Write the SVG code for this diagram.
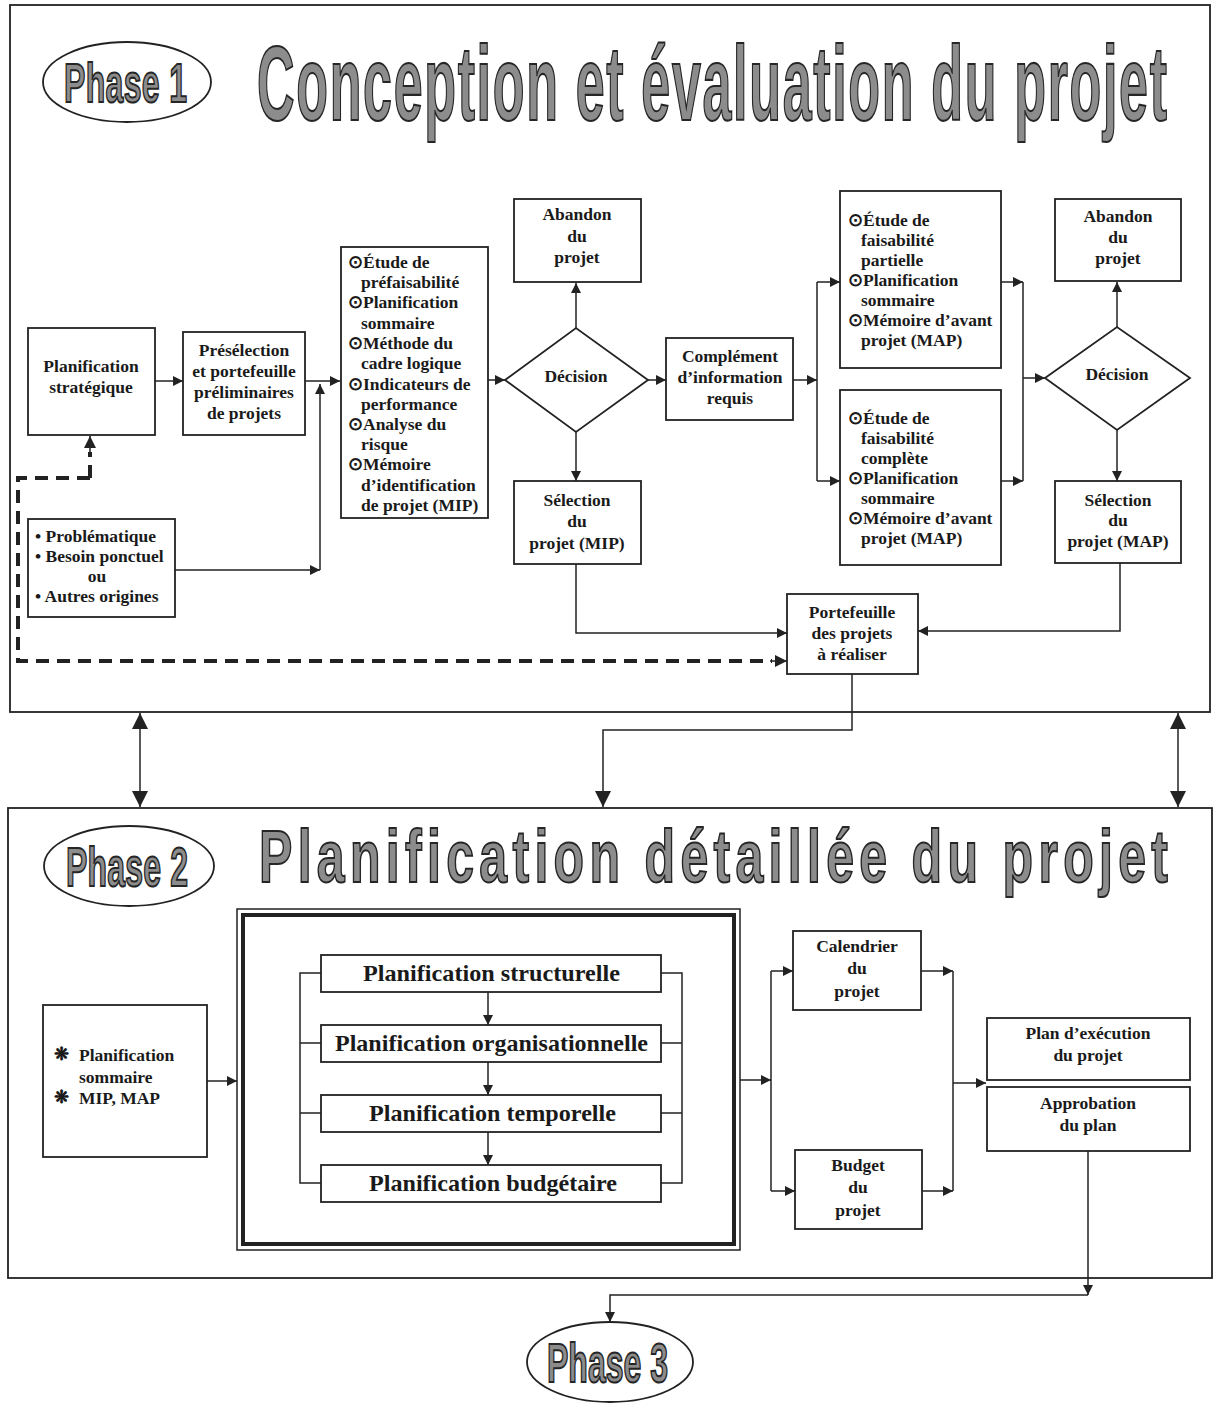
<svg xmlns="http://www.w3.org/2000/svg" width="1213" height="1405" viewBox="0 0 1213 1405">
<style>
.frame{fill:none;stroke:#222;stroke-width:1.8}
.box{fill:#fff;stroke:#222;stroke-width:1.8}
.ln{fill:none;stroke:#222;stroke-width:1.5}
.dash{fill:none;stroke:#222;stroke-width:4;stroke-dasharray:13 8}
.t{font-family:"Liberation Serif","Times New Roman",serif;font-weight:bold;font-size:17.5px;fill:#1a1a1a;text-anchor:middle}
.tl{font-family:"Liberation Serif","Times New Roman",serif;font-weight:bold;font-size:17.5px;fill:#1a1a1a}
.tb{font-family:"Liberation Serif","Times New Roman",serif;font-weight:bold;font-size:23px;fill:#1a1a1a}
.title{font-family:"Liberation Sans",Arial,sans-serif;font-weight:bold;fill:#8c8c8c;stroke:#262626;stroke-width:1.7;vector-effect:non-scaling-stroke;font-variant-ligatures:none}
.ell{fill:#fff;stroke:#222;stroke-width:1.8}
</style>
<defs>
<marker id="ah" viewBox="0 0 10 10" refX="10" refY="5" markerWidth="10" markerHeight="10" markerUnits="userSpaceOnUse" orient="auto-start-reverse"><path d="M0,0 L10,5 L0,10 z" fill="#222"/></marker>
<marker id="ahd" viewBox="0 0 10 10" refX="10" refY="5" markerWidth="12" markerHeight="12" markerUnits="userSpaceOnUse" orient="auto"><path d="M0,0 L10,5 L0,10 z" fill="#222"/></marker>
<marker id="ahb" viewBox="0 0 10 10" refX="10" refY="5" markerWidth="16" markerHeight="16" markerUnits="userSpaceOnUse" orient="auto-start-reverse"><path d="M0,0 L10,5 L0,10 z" fill="#222"/></marker>
</defs>
<rect width="1213" height="1405" fill="#fff"/>

<!-- Phase frames -->
<g id="phase1-frame"><rect class="frame" x="10" y="5" width="1200" height="707"/></g>
<g id="phase2-frame"><rect class="frame" x="8" y="808" width="1204" height="470"/></g>

<!-- Titles -->
<g id="phase1-label">
<ellipse class="ell" cx="127" cy="82" rx="84" ry="40"/>
<text class="title" transform="translate(64,102) scale(1,1.75)" font-size="32" textLength="123" lengthAdjust="spacing">Phase 1</text>
</g>
<g id="phase1-title"><text class="title" transform="translate(257,120) scale(1,2.02)" font-size="52" textLength="910" lengthAdjust="spacing">Conception et évaluation du projet</text></g>
<g id="phase2-label">
<ellipse class="ell" cx="129" cy="866" rx="85" ry="40"/>
<text class="title" transform="translate(66,886) scale(1,1.75)" font-size="32" textLength="122" lengthAdjust="spacing">Phase 2</text>
</g>
<g id="phase2-title"><text class="title" transform="translate(259,882) scale(1,1.5)" font-size="50" textLength="909" lengthAdjust="spacing">Planification détaillée du projet</text></g>
<g id="phase3-label">
<ellipse class="ell" cx="610" cy="1362" rx="83" ry="40"/>
<text class="title" transform="translate(547,1382) scale(1,1.75)" font-size="32" textLength="121" lengthAdjust="spacing">Phase 3</text>
</g>

<!-- Phase 1 nodes -->
<g id="planif-strat"><rect class="box" x="28" y="328" width="127" height="107"/>
<text class="t" x="91" y="372">Planification</text><text class="t" x="91" y="393">stratégique</text></g>
<g id="preselection"><rect class="box" x="183" y="332" width="122" height="103"/>
<text class="t" x="244" y="356">Présélection</text><text class="t" x="244" y="377">et portefeuille</text><text class="t" x="244" y="398">préliminaires</text><text class="t" x="244" y="419">de projets</text></g>
<g id="origines"><rect class="box" x="28" y="519" width="147" height="98"/>
<text class="tl" x="35" y="542">• Problématique</text><text class="tl" x="35" y="562">• Besoin ponctuel</text><text class="t" x="97" y="582">ou</text><text class="tl" x="35" y="602">• Autres origines</text></g>
<g id="mip-etudes"><rect class="box" x="341" y="247" width="147" height="271"/>
<text class="tl" x="348" y="268">⊙Étude de</text>
<text class="tl" x="361" y="288">préfaisabilité</text>
<text class="tl" x="348" y="308">⊙Planification</text>
<text class="tl" x="361" y="329">sommaire</text>
<text class="tl" x="348" y="349">⊙Méthode du</text>
<text class="tl" x="361" y="369">cadre logique</text>
<text class="tl" x="348" y="390">⊙Indicateurs de</text>
<text class="tl" x="361" y="410">performance</text>
<text class="tl" x="348" y="430">⊙Analyse du</text>
<text class="tl" x="361" y="450">risque</text>
<text class="tl" x="348" y="470">⊙Mémoire</text>
<text class="tl" x="361" y="491">d’identification</text>
<text class="tl" x="361" y="511">de projet (MIP)</text></g>
<g id="decision1"><polygon class="box" points="505,380 576,328 648,380 576,432"/><text class="t" x="576" y="382">Décision</text></g>
<g id="abandon1"><rect class="box" x="514" y="199" width="127" height="83"/>
<text class="t" x="577" y="220">Abandon</text><text class="t" x="577" y="242">du</text><text class="t" x="577" y="263">projet</text></g>
<g id="selection-mip"><rect class="box" x="514" y="481" width="127" height="83"/>
<text class="t" x="577" y="506">Sélection</text><text class="t" x="577" y="527">du</text><text class="t" x="577" y="549">projet (MIP)</text></g>
<g id="complement"><rect class="box" x="666" y="338" width="127" height="82"/>
<text class="t" x="730" y="362">Complément</text><text class="t" x="730" y="383">d’information</text><text class="t" x="730" y="404">requis</text></g>
<g id="faisabilite-partielle"><rect class="box" x="840" y="191" width="161" height="177"/>
<text class="tl" x="848" y="226">⊙Étude de</text>
<text class="tl" x="861" y="246">faisabilité</text>
<text class="tl" x="861" y="266">partielle</text>
<text class="tl" x="848" y="286">⊙Planification</text>
<text class="tl" x="861" y="306">sommaire</text>
<text class="tl" x="848" y="326">⊙Mémoire d’avant</text>
<text class="tl" x="861" y="346">projet (MAP)</text></g>
<g id="faisabilite-complete"><rect class="box" x="840" y="390" width="161" height="175"/>
<text class="tl" x="848" y="424">⊙Étude de</text>
<text class="tl" x="861" y="444">faisabilité</text>
<text class="tl" x="861" y="464">complète</text>
<text class="tl" x="848" y="484">⊙Planification</text>
<text class="tl" x="861" y="504">sommaire</text>
<text class="tl" x="848" y="524">⊙Mémoire d’avant</text>
<text class="tl" x="861" y="544">projet (MAP)</text></g>
<g id="decision2"><polygon class="box" points="1045,378 1117,327 1190,378 1117,430"/><text class="t" x="1117" y="380">Décision</text></g>
<g id="abandon2"><rect class="box" x="1055" y="199" width="126" height="82"/>
<text class="t" x="1118" y="222">Abandon</text><text class="t" x="1118" y="243">du</text><text class="t" x="1118" y="264">projet</text></g>
<g id="selection-map"><rect class="box" x="1055" y="481" width="126" height="82"/>
<text class="t" x="1118" y="506">Sélection</text><text class="t" x="1118" y="526">du</text><text class="t" x="1118" y="547">projet (MAP)</text></g>
<g id="portefeuille"><rect class="box" x="787" y="594" width="131" height="80"/>
<text class="t" x="852" y="618">Portefeuille</text><text class="t" x="852" y="639">des projets</text><text class="t" x="852" y="660">à réaliser</text></g>

<!-- Phase 2 nodes -->
<g id="entrees"><rect class="box" x="43" y="1005" width="164" height="152"/>
<text class="tl" x="54" y="1060" font-size="12">❋</text><text class="tl" x="79" y="1061">Planification</text>
<text class="tl" x="79" y="1083">sommaire</text>
<text class="tl" x="54" y="1103" font-size="12">❋</text><text class="tl" x="79" y="1104">MIP, MAP</text></g>
<g id="planif-bloc">
<rect x="237" y="909" width="503" height="341" fill="#fff" stroke="#222" stroke-width="1.5"/>
<rect x="243" y="915" width="491" height="329" fill="none" stroke="#222" stroke-width="4"/>
</g>
<g id="planif-structurelle"><rect class="box" x="321" y="955" width="340" height="37"/><text class="tb" x="363" y="981" textLength="257" lengthAdjust="spacingAndGlyphs">Planification structurelle</text></g>
<g id="planif-organisationnelle"><rect class="box" x="321" y="1025" width="340" height="37"/><text class="tb" x="335" y="1051" textLength="313" lengthAdjust="spacingAndGlyphs">Planification organisationnelle</text></g>
<g id="planif-temporelle"><rect class="box" x="321" y="1095" width="340" height="37"/><text class="tb" x="369" y="1121" textLength="247" lengthAdjust="spacingAndGlyphs">Planification temporelle</text></g>
<g id="planif-budgetaire"><rect class="box" x="321" y="1165" width="340" height="37"/><text class="tb" x="369" y="1191" textLength="248" lengthAdjust="spacingAndGlyphs">Planification budgétaire</text></g>
<g id="calendrier"><rect class="box" x="793" y="931" width="128" height="79"/>
<text class="t" x="857" y="952">Calendrier</text><text class="t" x="857" y="974">du</text><text class="t" x="857" y="997">projet</text></g>
<g id="budget"><rect class="box" x="795" y="1150" width="127" height="79"/>
<text class="t" x="858" y="1171">Budget</text><text class="t" x="858" y="1193">du</text><text class="t" x="858" y="1216">projet</text></g>
<g id="plan-execution"><rect class="box" x="987" y="1018" width="203" height="62"/>
<text class="t" x="1088" y="1039">Plan d’exécution</text><text class="t" x="1088" y="1061">du projet</text></g>
<g id="approbation"><rect class="box" x="987" y="1087" width="203" height="64"/>
<text class="t" x="1088" y="1109">Approbation</text><text class="t" x="1088" y="1131">du plan</text></g>

<!-- Connectors -->
<g id="connectors">
<path class="ln" d="M155,381 H183" marker-end="url(#ah)"/>
<path class="ln" d="M305,381 H340" marker-end="url(#ah)"/>
<path class="ln" d="M175,570 H320" marker-end="url(#ah)"/>
<path class="ln" d="M320,570 V384" marker-end="url(#ah)"/>
<path class="ln" d="M488,380 H505" marker-end="url(#ah)"/>
<path class="ln" d="M576,328 V283" marker-end="url(#ah)"/>
<path class="ln" d="M576,432 V481" marker-end="url(#ah)"/>
<path class="ln" d="M648,380 H666" marker-end="url(#ah)"/>
<path class="ln" d="M793,380 H817" marker-end="url(#ah)"/>
<path class="ln" d="M817,282 V481"/>
<path class="ln" d="M817,282 H840" marker-end="url(#ah)"/>
<path class="ln" d="M817,481 H840" marker-end="url(#ah)"/>
<path class="ln" d="M1001,282 H1023" marker-end="url(#ah)"/>
<path class="ln" d="M1001,481 H1023" marker-end="url(#ah)"/>
<path class="ln" d="M1023,282 V481"/>
<path class="ln" d="M1023,378 H1045" marker-end="url(#ah)"/>
<path class="ln" d="M1117,327 V282" marker-end="url(#ah)"/>
<path class="ln" d="M1117,430 V481" marker-end="url(#ah)"/>
<path class="ln" d="M576,564 V633 H787" marker-end="url(#ah)"/>
<path class="ln" d="M1120,563 V631 H918" marker-end="url(#ah)"/>
<path class="dash" d="M90,478 V452"/>
<path class="ln" d="M90,452 V436" stroke-width="3" marker-end="url(#ahd)"/>
<path class="dash" d="M90,478 H18 V661 H772"/>
<path class="ln" d="M770,661 H787" stroke-width="3" marker-end="url(#ahd)"/>
<path class="ln" d="M852,674 V730 H603 V807" marker-end="url(#ahb)"/>
<path class="ln" d="M140,713 V807" stroke-width="2" marker-start="url(#ahb)" marker-end="url(#ahb)"/>
<path class="ln" d="M1178,713 V807" stroke-width="2" marker-start="url(#ahb)" marker-end="url(#ahb)"/>
<path class="ln" d="M207,1081 H237" marker-end="url(#ah)"/>
<path class="ln" d="M488,992 V1025" marker-end="url(#ah)"/>
<path class="ln" d="M488,1062 V1095" marker-end="url(#ah)"/>
<path class="ln" d="M488,1132 V1165" marker-end="url(#ah)"/>
<path class="ln" d="M321,973 H300 V1183 H321 M300,1043 H321 M300,1113 H321"/>
<path class="ln" d="M661,973 H682 V1183 H661 M682,1043 H661 M682,1113 H661"/>
<path class="ln" d="M740,1080 H771" marker-end="url(#ah)"/>
<path class="ln" d="M771,971 V1191"/>
<path class="ln" d="M771,971 H793" marker-end="url(#ah)"/>
<path class="ln" d="M771,1191 H795" marker-end="url(#ah)"/>
<path class="ln" d="M921,971 H953" marker-end="url(#ah)"/>
<path class="ln" d="M922,1191 H953" marker-end="url(#ah)"/>
<path class="ln" d="M953,971 V1191"/>
<path class="ln" d="M953,1083 H986" marker-end="url(#ah)"/>
<path class="ln" d="M1088,1151 V1295" marker-end="url(#ah)"/>
<path class="ln" d="M1088,1295 H610 V1322" marker-end="url(#ah)"/>
</g>
</svg>
